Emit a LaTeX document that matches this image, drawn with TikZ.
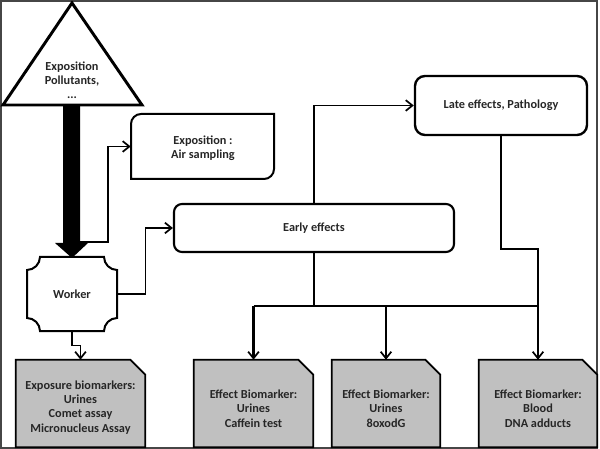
\documentclass[tikz,border=0pt]{standalone}
\usepackage{fontspec}
\setmainfont{Carlito}
\usetikzlibrary{arrows.meta,calc}
\definecolor{biogray}{RGB}{192,192,192}
\definecolor{framegray}{RGB}{70,70,70}
\begin{document}
\begin{tikzpicture}[x=0.75pt,y=-0.75pt,
  every node/.style={font=\fontsize{9.2}{10.7}\selectfont\bfseries, text=black!85, align=center, inner sep=0pt},
  conn/.style={line width=1.1pt, draw=black},
  tree/.style={line width=1.6pt, draw=black},
  arr/.style={-{Straight Barb[length=5pt,width=8pt,line width=1.3pt]}},
  outline/.style={line width=1.5pt, draw=black},
  rbox/.style={draw=black, line width=1.6pt, rounded corners=6pt},
  bio/.style={fill=biogray, draw=black, line width=1.3pt, line join=miter}]
\useasboundingbox (0,0) rectangle (600,449);
\draw[line width=1pt, draw=framegray] (1,1) rectangle (597,448);

% triangle
\draw[line width=2.2pt, line join=miter] (72,3) -- (142,105) -- (3,105) -- cycle;
\node (expo0) at (72,80) {Exposition\\Pollutants,\\...};

% thick arrow
\fill (63,105) -- (80,105) -- (80,243) -- (88,243) -- (72,258) -- (55,243) -- (63,243) -- cycle;
\coordinate (sh) at (80,242);

% exposition box
\node[minimum width=107.25pt, minimum height=48.75pt] (expo) at (202.5,146.5) {};
\draw[outline] (131,179) -- (131,124) .. controls (131,118.5) and (135.5,114) .. (141,114) -- (274,114) -- (274,169) .. controls (274,174.5) and (269.5,179) .. (264,179) -- cycle;
\node at (203,148) {Exposition :\\Air sampling};

% worker
\node[minimum width=67.5pt, minimum height=55.5pt] (worker) at (72,294) {Worker};
\draw[outline] (40,257) -- (104,257) .. controls (104,264) and (110,270) .. (117,270) -- (117,318) .. controls (110,318) and (104,324) .. (104,331) -- (40,331) .. controls (40,324) and (34,318) .. (27,318) -- (27,270) .. controls (34,270) and (40,264) .. (40,257) -- cycle;

% early / late
\node[rbox, minimum width=210pt, minimum height=36pt] (early) at (314,228) {Early effects};
\node[rbox, rounded corners=7.5pt, line width=1.8pt, minimum width=129pt, minimum height=44.25pt] (late) at (501,105.5) {Late effects, Pathology};

% biomarker boxes
\node[minimum width=96.75pt, minimum height=65.25pt] (bio0) at (80.5,403.5) {};
\node[minimum width=89.25pt, minimum height=65.25pt] (bio1) at (253.5,403.5) {};
\node[minimum width=81pt, minimum height=65.25pt] (bio2) at (386,403.5) {};
\node[minimum width=88.5pt, minimum height=65.25pt] (bio3) at (538,403.5) {};
\foreach \n in {bio0,bio1,bio2,bio3}{
  \draw[bio] (\n.south west) -- (\n.north west) -- ($(\n.north east)+(-15,0)$) -- ($(\n.north east)+(0,15)$) -- (\n.south east) -- cycle;
}
\node at ($(bio0.center)+(0,4)$) {Exposure biomarkers:\\Urines\\Comet assay\\Micronucleus Assay};
\node at ($(bio1.center)+(0,5)$) {Effect Biomarker:\\Urines\\Caffein test};
\node at ($(bio2.center)+(0,5)$) {Effect Biomarker:\\Urines\\8oxodG};
\node at ($(bio3.center)+(0,5)$) {Effect Biomarker:\\Blood\\DNA adducts};

% connectors
\draw[conn,arr] (sh) -- ++(28,0) |- (expo.west);
\draw[conn,arr] (worker.east) -- ++(28,0) |- (early.west);
\draw[conn,arr] (early.north) |- (late.west);
\draw[conn,arr] (worker.south) -- ++(0,14) -| (bio0.north);

\coordinate (j) at (314,306);
\draw[tree] (early.south) -- (j);
\draw[tree] (bio1.north |- j) -- (bio3.north |- j);
\draw[conn] (late.south) -- ++(0,113) -| (bio3.north |- j);
\draw[tree,arr] (bio1.north |- j) -- (bio1.north);
\draw[tree,arr] (bio2.north |- j) -- (bio2.north);
\draw[tree,arr] (bio3.north |- j) -- (bio3.north);
\end{tikzpicture}
\end{document}
